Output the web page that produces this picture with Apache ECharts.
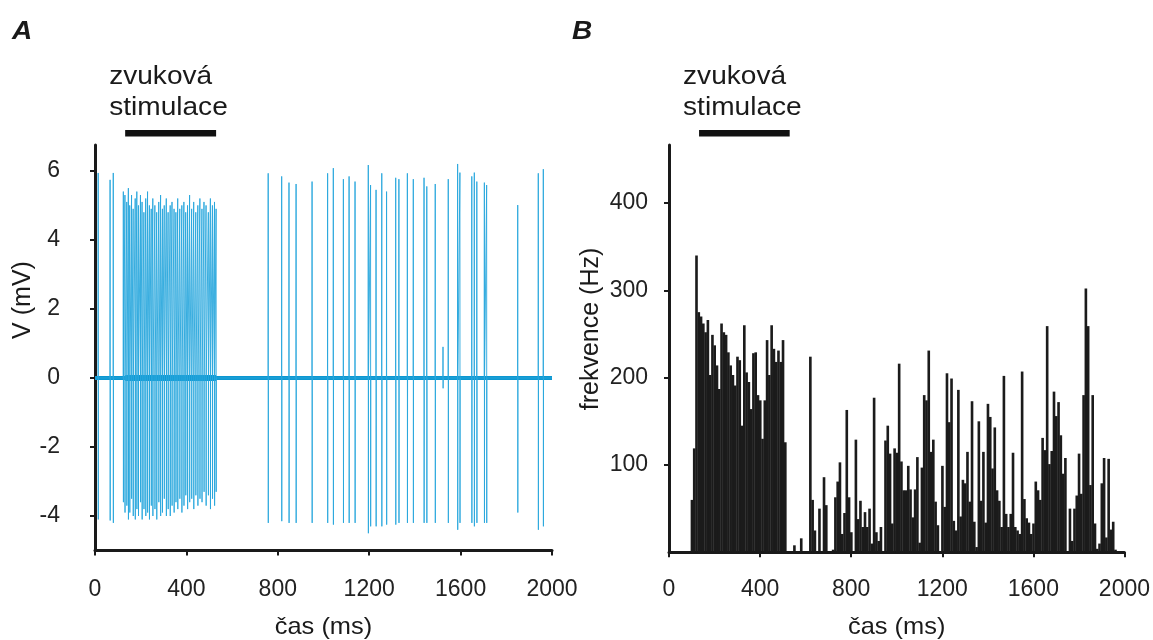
<!DOCTYPE html>
<html><head><meta charset="utf-8">
<script src="https://cdn.jsdelivr.net/npm/echarts@6/dist/echarts.min.js"></script>
<style>html,body{margin:0;padding:0;background:#fff}#c{width:1153px;height:640px}</style>
</head><body><div id="c"></div>
<script>
// ---------- data ----------
const timeTicksMs = [0, 400, 800, 1200, 1600, 2000];
const voltTicksMv = [-4, -2, 0, 2, 4, 6];
const freqTicksHz = [100, 200, 300, 400];
const stimulusMs = [132, 530];

// Panel A: spike times (ms) with peak / trough voltages (mV)
const spikeTimesMs = [14, 66, 80,
  124, 131, 139, 146, 152, 160, 167, 176, 183, 190, 199, 206, 214, 222, 230, 238, 246, 253, 262, 270,
  279, 287, 295, 303, 312, 320, 329, 337, 346, 354, 362, 371, 380, 389, 397, 405, 414, 423, 432, 441,
  450, 459, 468, 477, 486, 496, 505, 514, 523, 530,
  758, 817, 849, 880, 950, 1018, 1043, 1087, 1112, 1138, 1196, 1206, 1230, 1255, 1276, 1316, 1330,
  1367, 1393, 1440, 1452, 1489, 1523, 1546, 1587, 1597, 1649, 1660, 1671, 1704, 1714, 1850, 1940, 1962];
const spikePeakMv = [5.94, 5.74, 5.94,
  5.4, 5.3, 5.1, 5.5, 5.0, 5.3, 4.9, 5.2, 5.4, 5.0, 5.3, 5.1, 4.8, 5.2, 5.4, 5.0, 4.9, 5.2, 5.0, 4.8,
  5.1, 5.3, 4.9, 5.0, 5.2, 4.8, 5.0, 5.1, 4.9, 4.8, 5.2, 4.9, 5.0, 5.1, 4.8, 5.0, 5.3, 4.9, 5.1, 4.8,
  5.0, 5.2, 4.9, 5.1, 5.0, 4.8, 5.2, 5.0, 5.1, 4.9,
  5.93, 5.84, 5.66, 5.62, 5.69, 5.93, 6.08, 5.76, 5.84, 5.69, 6.17, 5.59, 5.45, 5.93, 5.40, 5.80, 5.76,
  5.93, 5.76, 5.80, 5.55, 5.62, 0.9, 5.76, 6.20, 5.95, 5.84, 5.95, 5.69, 5.66, 5.59, 5.01, 5.93, 6.05];
const spikeTroughMv = [-4.1, -4.13, -4.2,
  -3.6, -3.9, -3.7, -4.1, -3.9, -3.5, -4.0, -4.1, -3.8, -4.0, -3.6, -4.1, -3.8, -4.0, -3.9, -4.1, -3.7, -4.0, -3.8, -4.1,
  -3.6, -4.0, -3.9, -3.5, -4.0, -3.8, -4.0, -3.7, -3.9, -3.6, -3.8, -3.5, -3.9, -3.7, -3.4, -3.8, -3.6, -3.5, -3.8, -3.4,
  -3.7, -3.5, -3.6, -3.3, -3.7, -3.4, -3.8, -3.5, -3.7, -3.3,
  -4.2, -4.15, -4.2, -4.2, -4.2, -4.2, -4.25, -4.2, -4.2, -4.2, -4.5, -4.3, -4.3, -4.3, -4.25, -4.25, -4.2,
  -4.2, -4.2, -4.2, -4.2, -4.2, -0.3, -4.2, -4.4, -4.2, -4.2, -4.3, -4.2, -4.2, -4.2, -3.9, -4.4, -4.3];
const recordingMs = [0, 2000];

// Panel B: histogram, 10 ms bins starting at 95 ms
const histBinStartMs = 95;
const histBinWidthMs = 10;
const histFreqHz = [
  60,119,340,275,270,262,252,266,203,249,
  237,214,187,262,252,249,229,214,203,191,
  224,220,145,260,206,195,164,228,229,180,
  174,130,174,243,203,260,233,218,231,218,
  243,126,0,0,0,8,0,0,16,0,
  0,0,224,60,25,0,50,0,86,54,
  0,0,3,63,81,103,21,45,163,63,
  23,0,129,38,59,29,46,29,50,10,
  177,23,13,29,0,128,145,113,33,119,
  114,216,104,71,71,99,72,40,72,109,
  11,97,180,174,231,115,129,58,31,0,
  99,52,205,149,199,36,25,186,41,83,
  79,115,58,173,35,6,150,59,115,34,
  170,155,96,143,71,59,29,202,44,29,
  44,114,29,25,21,207,61,39,34,21,
  33,81,71,60,131,117,259,101,116,184,
  156,172,134,90,108,0,50,13,50,65,
  113,67,180,302,259,77,180,33,4,10,
  79,108,17,107,26,35,3];

// ---------- build ----------
const FONT = 'Arial, "Liberation Sans", Helvetica, sans-serif';
const INK = '#1a1a1a';

const trace = [[recordingMs[0], 0]];
spikeTimesMs.forEach((t, i) => {
  trace.push([t - 0.5, 0], [t, spikePeakMv[i]], [t + 0.4, spikeTroughMv[i]], [t + 0.9, 0]);
});
trace.push([recordingMs[1], 0]);

const hist = [];
histFreqHz.forEach((v, i) => {
  if (v > 0) hist.push([histBinStartMs + histBinWidthMs * i + histBinWidthMs / 2, v]);
});

const plainNum = v => String(v);

function xAxisCfg(gi, margin) {
  return {
    gridIndex: gi, type: 'value', min: 0, max: 2000, interval: 400,
    axisLine: { show: true, onZero: false, lineStyle: { color: INK, width: 3 } },
    axisTick: { show: true, length: 5, customValues: timeTicksMs, lineStyle: { color: INK, width: 2 } },
    axisLabel: { show: true, customValues: timeTicksMs, formatter: plainNum, margin: margin, fontSize: 23,
      color: '#222', fontFamily: FONT, showMinLabel: true, showMaxLabel: true, hideOverlap: false },
    splitLine: { show: false }
  };
}

const chart = echarts.init(document.getElementById('c'), null, { renderer: 'canvas' });
chart.setOption({
  animation: false,
  backgroundColor: '#ffffff',
  grid: [
    { left: 95, top: 145, width: 457, height: 405.5 },
    { left: 669, top: 145, width: 458, height: 407.3 }
  ],
  xAxis: [xAxisCfg(0, 28), xAxisCfg(1, 26)],
  yAxis: [
    { gridIndex: 0, type: 'value', min: -5, max: 6.75,
      axisLine: { show: true, onZero: false, lineStyle: { color: INK, width: 3 } },
      axisTick: { show: true, length: 5, customValues: voltTicksMv, lineStyle: { color: INK, width: 2 } },
      axisLabel: { show: true, customValues: voltTicksMv, formatter: plainNum, margin: 35, fontSize: 23, color: '#222', fontFamily: FONT },
      splitLine: { show: false } },
    { gridIndex: 1, type: 'value', min: 0, max: 466.4,
      axisLine: { show: true, onZero: false, lineStyle: { color: INK, width: 3 } },
      axisTick: { show: true, length: 5, customValues: freqTicksHz, lineStyle: { color: INK, width: 2 } },
      axisLabel: { show: true, customValues: freqTicksHz, formatter: plainNum, margin: 21, fontSize: 23, color: '#222', fontFamily: FONT },
      splitLine: { show: false } }
  ],
  series: [
    { type: 'line', xAxisIndex: 0, yAxisIndex: 0, showSymbol: false, silent: true, z: 2,
      data: recordingMs.map(t => [t, 0]),
      lineStyle: { color: '#0c97d1', width: 4 } },
    { type: 'line', xAxisIndex: 0, yAxisIndex: 0, showSymbol: false, silent: true, z: 2,
      data: stimulusMs.map(t => [t, 0]),
      lineStyle: { color: '#0c97d1', width: 6 } },
    { type: 'line', xAxisIndex: 0, yAxisIndex: 0, showSymbol: false, silent: true, z: 3,
      sampling: null, data: trace,
      lineStyle: { color: '#27a6dd', width: 1, opacity: 0.9 } },
    { type: 'custom', xAxisIndex: 1, yAxisIndex: 1, silent: true, z: 3, data: hist,
      renderItem: function (params, api) {
        const t = api.value(0), v = api.value(1);
        const p0 = api.coord([t - histBinWidthMs / 2, v]);
        const p1 = api.coord([t + histBinWidthMs / 2, 0]);
        return { type: 'rect',
          shape: { x: p0[0], y: p0[1], width: p1[0] - p0[0] + 0.35, height: p1[1] - p0[1] },
          style: { fill: '#1b1b1b' } };
      } }
  ]
});

// ---------- annotations ----------
const gridTop = 145;
function txt(text, x, y, size, opts) {
  return Object.assign({
    type: 'text', x: x, y: y, silent: true,
    style: Object.assign({ text: text, fill: INK, fontSize: size, fontFamily: FONT,
      align: 'left', verticalAlign: 'middle', textAlign: 'left', textVerticalAlign: 'middle' }, (opts && opts.style) || {})
  }, (opts && opts.el) || {});
}
const graphics = [];
[0, 1].forEach(ai => {
  const x0 = chart.convertToPixel({ xAxisIndex: ai }, stimulusMs[0]);
  const x1 = chart.convertToPixel({ xAxisIndex: ai }, stimulusMs[1]);
  graphics.push({ type: 'rect', silent: true, shape: { x: x0, y: gridTop - 15, width: x1 - x0, height: 6.5 }, style: { fill: '#111' } });
  graphics.push(txt('zvuková', x0 - 16, gridTop - 68, 26, { el: { scaleX: 1.08 } }));
  graphics.push(txt('stimulace', x0 - 16, gridTop - 37, 26, { el: { scaleX: 1.08 } }));
  const xc = (chart.convertToPixel({ xAxisIndex: ai }, 0) + chart.convertToPixel({ xAxisIndex: ai }, 2000)) / 2;
  graphics.push(txt('čas (ms)', xc, 627, 24, { el: { scaleX: 1.06 }, style: { align: 'center', textAlign: 'center' } }));
});
graphics.push(txt('A', 12, 32, 25, { el: { scaleX: 1.12 }, style: { fontWeight: 'bold', fontStyle: 'italic' } }));
graphics.push(txt('B', 572, 32, 25, { el: { scaleX: 1.12 }, style: { fontWeight: 'bold', fontStyle: 'italic' } }));
graphics.push(txt('V (mV)', 23, 300, 25, { el: { rotation: Math.PI / 2 }, style: { align: 'center', textAlign: 'center' } }));
graphics.push(txt('frekvence (Hz)', 591, 329, 25, { el: { rotation: Math.PI / 2 }, style: { align: 'center', textAlign: 'center' } }));
chart.setOption({ graphic: { elements: graphics } });
</script>
</body></html>
